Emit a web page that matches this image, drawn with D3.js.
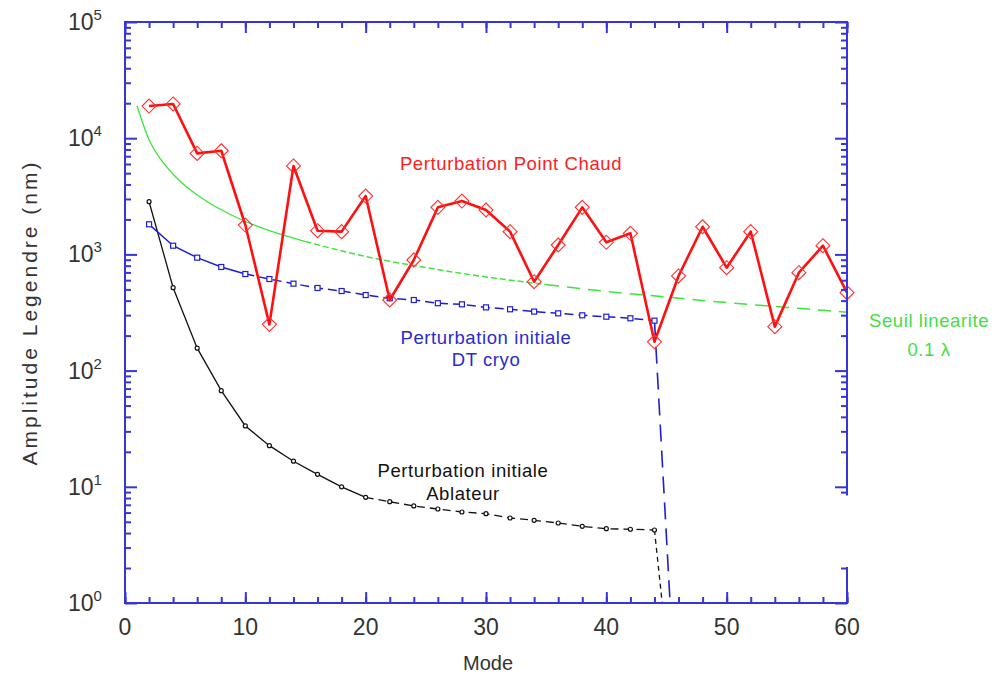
<!DOCTYPE html>
<html>
<head>
<meta charset="utf-8">
<script src="https://cdn.jsdelivr.net/npm/d3@7"></script>
<style>
  body { margin: 0; background: #fff; }
  text { font-family: "Liberation Sans", Arial, sans-serif; }
</style>
</head>
<body>
<svg id="chart" width="1007" height="675"></svg>
<script>
// data
const chaudModes = [2,4,6,8,10,12,14,16,18,20,22,24,26,28,30,32,34,36,38,40,42,44,46,48,50,52,54,56,58,60]
const chaud = [18900,19700,7400,7800,1790,250,5770,1600,1570,3180,405,895,2540,2880,2410,1570,582,1205,2540,1270,1520,177,652,1730,769,1570,239,696,1188,468]

const cryoModes = [2,4,6,8,10,12,14,16,18,20,22,24,26,28,30,32,34,36,38,40,42,44,46]
const cryo = [1815,1188,937,779,678,614,560,514,484,447,419,405,380,372,350,337,322,311,299,291,282,269,0.049]

const ablModes = [2,4,6,8,10,12,14,16,18,20,22,24,26,28,30,32,34,36,38,40,42,44,46]
const abl = [2840,517,156,67.2,33.4,22.6,16.6,12.8,10.0,8.11,7.44,6.84,6.44,6.07,5.87,5.39,5.15,4.88,4.57,4.36,4.31,4.25,0.047]

const seuilModes = [1,2,3,4,5,6,8,10,12,15,20,25,30,35,40,45,50,55,60]
const seuil = [19000,9700,6500,4900,3900,3250,2420,1920,1600,1290,960,770,640,550,480,430,385,350,318]

const xTicks = [0,10,20,30,40,50,60]
const xMinor = d3.range(0, 61, 2)
const yTicks = [1,10,100,1000,10000,100000]
const yMinor = []
yTicks.slice(0, -1).forEach(d => { for (let k = 2; k < 10; k++) yMinor.push(d * k) })

const margin = {top: 22, right: 160, bottom: 72, left: 125}
const width = 1007 - margin.left - margin.right
const height = 675 - margin.top - margin.bottom

const svg = d3.select("#chart")
const g = svg.append("g").attr("transform", "translate(" + margin.left + "," + margin.top + ")")

const x = d3.scaleLinear().domain([0, 60]).range([0, width])
const y = d3.scaleLog().domain([1, 1e5]).range([height, 0])

const axisColor = "#3535d8"

g.append("clipPath").attr("id", "clip")
  .append("rect").attr("width", width).attr("height", height)

const plot = g.append("g").attr("clip-path", "url(#clip)")

const zip = (xs, ys) => xs.map((m, i) => ({m: m, v: ys[i]}))
const line = d3.line().x(d => x(d.m)).y(d => y(d.v))

// green threshold curve
const seuilData = zip(seuilModes, seuil)
const green = "#3ce63c"
plot.append("path").datum(seuilData.filter(d => d.m <= 15))
  .attr("fill", "none").attr("stroke", green).attr("stroke-width", 1.3)
  .attr("d", line.curve(d3.curveMonotoneX))
plot.append("path").datum(seuilData.filter(d => d.m >= 15 && d.m <= 35))
  .attr("fill", "none").attr("stroke", green).attr("stroke-width", 1.5)
  .attr("stroke-dasharray", "6,3")
  .attr("d", line.curve(d3.curveMonotoneX))
plot.append("path").datum(seuilData.filter(d => d.m >= 35))
  .attr("fill", "none").attr("stroke", green).attr("stroke-width", 1.5)
  .attr("stroke-dasharray", "13,8")
  .attr("d", line.curve(d3.curveMonotoneX))
line.curve(d3.curveLinear)

// black: ablateur
const ablData = zip(ablModes, abl)
plot.append("path").datum(ablData.filter(d => d.m <= 20))
  .attr("fill", "none").attr("stroke", "#111").attr("stroke-width", 1.3).attr("d", line)
plot.append("path").datum(ablData.filter(d => d.m >= 20 && d.m <= 44))
  .attr("fill", "none").attr("stroke", "#111").attr("stroke-width", 1.3)
  .attr("stroke-dasharray", "8,5").attr("d", line)
plot.append("path").datum(ablData.filter(d => d.m >= 44))
  .attr("fill", "none").attr("stroke", "#111").attr("stroke-width", 1.3)
  .attr("stroke-dasharray", "5,4").attr("d", line)
plot.selectAll("circle.abl").data(ablData.filter(d => d.m <= 44)).enter()
  .append("circle").attr("class", "abl")
  .attr("cx", d => x(d.m)).attr("cy", d => y(d.v)).attr("r", 2)
  .attr("fill", "#fff").attr("stroke", "#111").attr("stroke-width", 1.2)

// blue: DT cryo
const blue = "#1e1ed2"
const cryoData = zip(cryoModes, cryo)
plot.append("path").datum(cryoData.filter(d => d.m <= 10))
  .attr("fill", "none").attr("stroke", blue).attr("stroke-width", 1.5).attr("d", line)
plot.append("path").datum(cryoData.filter(d => d.m >= 10 && d.m <= 44))
  .attr("fill", "none").attr("stroke", blue).attr("stroke-width", 1.5)
  .attr("stroke-dasharray", "9,5").attr("d", line)
plot.append("path").datum(cryoData.filter(d => d.m >= 44))
  .attr("fill", "none").attr("stroke", blue).attr("stroke-width", 1.6)
  .attr("stroke-dasharray", "17,9").attr("d", line)
plot.selectAll("rect.cryo").data(cryoData.filter(d => d.m <= 44)).enter()
  .append("rect").attr("class", "cryo")
  .attr("x", d => x(d.m) - 2.5).attr("y", d => y(d.v) - 2.5)
  .attr("width", 5).attr("height", 5)
  .attr("fill", "#fff").attr("stroke", blue).attr("stroke-width", 1.2)

// red: point chaud
const chaudData = zip(chaudModes, chaud)
g.append("path").datum(chaudData)
  .attr("fill", "none").attr("stroke", "#ff1010").attr("stroke-width", 2.6)
  .attr("stroke-linejoin", "round").attr("d", line)
g.selectAll("path.dia").data(chaudData).enter()
  .append("path").attr("class", "dia")
  .attr("transform", d => "translate(" + x(d.m) + "," + y(d.v) + ")")
  .attr("d", "M0,-7L7,0L0,7L-7,0Z")
  .attr("fill", "none").attr("stroke", "#ff3030").attr("stroke-width", 1.1)

// axes
function styleAxis(sel) {
  sel.selectAll("line").attr("stroke", axisColor).attr("stroke-width", 2)
  sel.selectAll("path.domain").remove()
  sel.selectAll("text").remove()
}
g.append("g").attr("transform", "translate(0," + height + ")")
  .call(d3.axisBottom(x).tickValues(xMinor).tickSize(-6)).call(styleAxis)
g.append("g").attr("transform", "translate(0," + height + ")")
  .call(d3.axisBottom(x).tickValues(xTicks).tickSize(-11)).call(styleAxis)
g.append("g")
  .call(d3.axisTop(x).tickValues(xMinor).tickSize(-6)).call(styleAxis)
g.append("g")
  .call(d3.axisTop(x).tickValues(xTicks).tickSize(-11)).call(styleAxis)
g.append("g")
  .call(d3.axisLeft(y).tickValues(yMinor).tickSize(-6)).call(styleAxis)
g.append("g")
  .call(d3.axisLeft(y).tickValues(yTicks).tickSize(-12)).call(styleAxis)
// right axis is broken between 2 and ~8.6
const gapLow = 2, gapHigh = 8.6
g.append("g").attr("transform", "translate(" + width + ",0)")
  .call(d3.axisRight(y).tickValues(yMinor.filter(d => d <= gapLow || d >= gapHigh)).tickSize(-6)).call(styleAxis)
g.append("g").attr("transform", "translate(" + width + ",0)")
  .call(d3.axisRight(y).tickValues(yTicks).tickSize(-12)).call(styleAxis)

const frame = [
  [[0, 0], [0, height]],
  [[0, height], [width, height]],
  [[0, 0], [width, 0]],
  [[width, 0], [width, y(gapHigh)]],
  [[width, y(gapLow)], [width, height]]
]
g.selectAll("line.frame").data(frame).enter().append("line").attr("class", "frame")
  .attr("x1", d => d[0][0]).attr("y1", d => d[0][1])
  .attr("x2", d => d[1][0]).attr("y2", d => d[1][1])
  .attr("stroke", axisColor).attr("stroke-width", 2).attr("stroke-linecap", "square")

// tick labels
g.selectAll("text.xl").data(xTicks).enter().append("text").attr("class", "xl")
  .attr("x", d => x(d)).attr("y", height + 32)
  .attr("text-anchor", "middle").style("font-size", "23px").attr("fill", "#333")
  .text(d => d)

const yl = g.selectAll("text.yl").data(yTicks).enter().append("text").attr("class", "yl")
  .attr("x", -57).attr("y", d => y(d) + 8)
  .style("font-size", "23px").attr("fill", "#333")
yl.append("tspan").text("10")
yl.append("tspan").attr("dy", -10).style("font-size", "15px").text(d => Math.round(Math.log10(d)))

// axis titles
svg.append("text").attr("x", 488).attr("y", 670).attr("text-anchor", "middle")
  .style("font-size", "20px").attr("fill", "#333").text("Mode")
svg.append("text").attr("transform", "translate(37," + (margin.top + height / 2) + ") rotate(-90)")
  .attr("text-anchor", "middle")
  .style("font-size", "21px").style("letter-spacing", "3px")
  .attr("fill", "#333").text("Amplitude Legendre  (nm)")

// annotations
const notes = [
  {t: "Perturbation Point Chaud", x: 511, y: 170, c: "#ff2020"},
  {t: "Perturbation initiale", x: 486, y: 344, c: "#2a2ad0"},
  {t: "DT cryo", x: 486, y: 366, c: "#2a2ad0"},
  {t: "Perturbation initiale", x: 463, y: 477, c: "#111"},
  {t: "Ablateur", x: 463, y: 500, c: "#111"},
  {t: "Seuil linearite", x: 929, y: 327, c: "#44dd44"},
  {t: "0.1 \u03bb", x: 929, y: 356, c: "#44dd44"}
]
svg.selectAll("text.note").data(notes).enter().append("text").attr("class", "note")
  .attr("x", d => d.x).attr("y", d => d.y).attr("text-anchor", "middle")
  .style("font-size", "18.5px").style("letter-spacing", "0.6px")
  .attr("fill", d => d.c).text(d => d.t)
</script>
</body>
</html>
